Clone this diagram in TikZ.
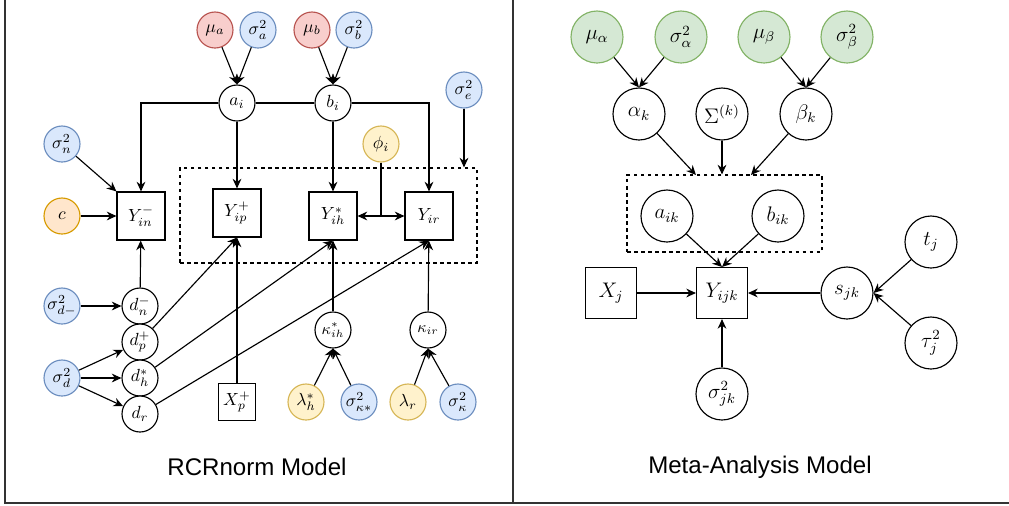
\documentclass[tikz,border=0pt]{standalone}
\usepackage{fontspec}
\setsansfont{Liberation Sans}
\usetikzlibrary{arrows.meta}

\definecolor{redfill}{HTML}{F8CECC}
\definecolor{redline}{HTML}{B85450}
\definecolor{bluefill}{HTML}{DAE8FC}
\definecolor{blueline}{HTML}{6C8EBF}
\definecolor{yellowfill}{HTML}{FFF2CC}
\definecolor{yellowline}{HTML}{D6B656}
\definecolor{orangefill}{HTML}{FFE6CC}
\definecolor{orangeline}{HTML}{D79B00}
\definecolor{greenfill}{HTML}{D5E8D4}
\definecolor{greenline}{HTML}{82B366}
\definecolor{framecol}{HTML}{333333}

\tikzset{
    var/.style={circle, draw, fill=white, minimum size=0.72cm, inner sep=0pt},
    redvar/.style={var, fill=redfill, draw=redline},
    bluevar/.style={var, fill=bluefill, draw=blueline},
    yellowvar/.style={var, fill=yellowfill, draw=yellowline},
    orangevar/.style={var, fill=orangefill, draw=orangeline},
    bigvar/.style={var, minimum size=1.04cm, font=\fontsize{11.5}{13}\selectfont},
    greenvar/.style={bigvar, fill=greenfill, draw=greenline},
    obs/.style={rectangle, draw, fill=white, minimum size=0.96cm, inner sep=0pt},
    bigobs/.style={obs, minimum size=1.02cm, font=\fontsize{11.5}{13}\selectfont},
    plate/.style={rectangle, draw, dash pattern=on 2pt off 2pt, inner sep=0pt},
    arr/.style={-{Stealth[length=5.5pt, width=5pt]}},
    title/.style={font=\sffamily\fontsize{13.7}{16}\selectfont}
}

\begin{document}
\begin{tikzpicture}[x=0.02cm, y=-0.02cm, line width=0.65pt]
    \useasboundingbox (0,0) rectangle (1009,505);

    % Frame
    \draw[framecol, line width=1pt] (5,0) -- (5,503) -- (1009,503);
    \draw[framecol, line width=1pt] (513,0) -- (513,503);

    % RCRnorm model: priors
    \node[redvar] (mua) at (215,30) {$\mu_a$};
    \node[bluevar] (siga) at (258,30) {$\sigma_a^2$};
    \node[redvar] (mub) at (312,30) {$\mu_b$};
    \node[bluevar] (sigb) at (354,30) {$\sigma_b^2$};
    \node[var] (ai) at (237,103) {$a_i$};
    \node[var] (bi) at (333,103) {$b_i$};
    \node[bluevar] (sige) at (464,90) {$\sigma_e^2$};
    \node[bluevar] (sign) at (62,144) {$\sigma_n^2$};
    \node[yellowvar] (phii) at (381,144) {$\phi_i$};
    \node[orangevar] (c) at (62,216) {$c$};

    % RCRnorm model: observations
    \node[plate, minimum width=5.94cm, minimum height=1.9cm] (plateL) at (328.5,215.5) {};
    \node[obs] (Yin) at (141,216) {$Y_{in}^-$};
    \node[obs] (Yip) at (237,213) {$Y_{ip}^+$};
    \node[obs] (Yih) at (333,216) {$Y_{ih}^*$};
    \node[obs] (Yir) at (429,216) {$Y_{ir}$};

    % RCRnorm model: lower part
    \node[bluevar] (sigdm) at (62,306) {$\sigma_{d-}^2$};
    \node[bluevar] (sigd) at (62,378) {$\sigma_d^2$};
    \node[var] (dn) at (140,306) {$d_n^-$};
    \node[var] (dp) at (140,342) {$d_p^+$};
    \node[var] (dh) at (140,378) {$d_h^*$};
    \node[var] (dr) at (140,414) {$d_r$};
    \node[obs, minimum size=0.74cm] (Xp) at (237,402) {$X_p^+$};
    \node[var, font=\small] (kih) at (333,330) {$\kappa_{ih}^*$};
    \node[var, font=\small] (kir) at (428,330) {$\kappa_{ir}$};
    \node[yellowvar] (lamh) at (306,402) {$\lambda_h^*$};
    \node[bluevar] (sigks) at (359,402) {$\sigma_{\kappa*}^2$};
    \node[yellowvar] (lamr) at (408,402) {$\lambda_r$};
    \node[bluevar] (sigk) at (458,402) {$\sigma_\kappa^2$};
    \node[title] (titleL) at (257,467) {RCRnorm Model};

    % RCRnorm model: edges
    \draw[arr] (mua) -- (ai.north);
    \draw[arr] (siga) -- (ai.north);
    \draw[arr] (mub) -- (bi.north);
    \draw[arr] (sigb) -- (bi.north);
    \draw[arr] (ai.west) -| (Yin.north);
    \draw (ai.east) -- (bi.west);
    \draw[arr] (bi.east) -| (Yir.north);
    \draw[arr] (ai) -- (Yip);
    \draw[arr] (bi) -- (Yih);
    \draw[arr] (sige) -- (sige |- plateL.north);
    \draw (phii) -- (phii |- Yih.east) coordinate (phijoin);
    \draw[arr] (phijoin) -- (Yih.east);
    \draw[arr] (phijoin) -- (Yir.west);
    \draw[arr] (sign) -- (Yin.north west);
    \draw[arr] (c) -- (Yin);
    \draw[arr] (dn) -- (Yin);
    \draw[arr] (sigdm) -- (dn);
    \draw[arr] (sigd) -- (dp);
    \draw[arr] (sigd) -- (dh);
    \draw[arr] (sigd) -- (dr);
    \draw[arr] (dp) -- (Yip.south);
    \draw[arr] (dh) -- (Yih.south);
    \draw[arr] (dr) -- (Yir.south);
    \draw[arr] (Xp) -- (Yip);
    \draw[arr] (kih) -- (Yih);
    \draw[arr] (kir) -- (Yir);
    \draw[arr] (lamh) -- (kih.south);
    \draw[arr] (sigks) -- (kih.south);
    \draw[arr] (lamr) -- (kir.south);
    \draw[arr] (sigk) -- (kir.south);

    % Meta-analysis model: nodes
    \node[greenvar] (mualpha) at (597,37) {$\mu_\alpha$};
    \node[greenvar] (sigalpha) at (681,37) {$\sigma_\alpha^2$};
    \node[greenvar] (mubeta) at (764,37) {$\mu_\beta$};
    \node[greenvar] (sigbeta) at (847,37) {$\sigma_\beta^2$};
    \node[bigvar] (alphak) at (639,114) {$\alpha_k$};
    \node[bigvar] (Sigk) at (722,114) {$\Sigma^{(k)}$};
    \node[bigvar] (betak) at (806,114) {$\beta_k$};
    \node[plate, minimum width=3.9cm, minimum height=1.54cm] (plateR) at (724.5,213.5) {};
    \coordinate (pinA) at (696,175);
    \coordinate (pinB) at (751,175);
    \node[bigvar] (aik) at (667,216) {$a_{ik}$};
    \node[bigvar] (bik) at (778,216) {$b_{ik}$};
    \node[bigobs] (Xj) at (611,293) {$X_j$};
    \node[bigobs] (Yijk) at (722,293) {$Y_{ijk}$};
    \node[bigvar] (sjk) at (847,293) {$s_{jk}$};
    \node[bigvar] (tj) at (931,242) {$t_j$};
    \node[bigvar] (tauj) at (931,343) {$\tau_j^2$};
    \node[bigvar] (sigjk) at (722,394) {$\sigma_{jk}^2$};
    \node[title] (titleR) at (760,467) {Meta-Analysis Model};

    % Meta-analysis model: edges
    \draw[arr] (mualpha) -- (alphak.north);
    \draw[arr] (sigalpha) -- (alphak.north);
    \draw[arr] (mubeta) -- (betak.north);
    \draw[arr] (sigbeta) -- (betak.north);
    \draw[arr] (alphak) -- (pinA);
    \draw[arr] (Sigk) -- (Sigk |- plateR.north);
    \draw[arr] (betak) -- (pinB);
    \draw[arr] (aik) -- (Yijk.north);
    \draw[arr] (bik) -- (Yijk.north);
    \draw[arr] (Xj) -- (Yijk);
    \draw[arr] (sjk) -- (Yijk);
    \draw[arr] (tj) -- (sjk.east);
    \draw[arr] (tauj) -- (sjk.east);
    \draw[arr] (sigjk) -- (Yijk);
\end{tikzpicture}
\end{document}
